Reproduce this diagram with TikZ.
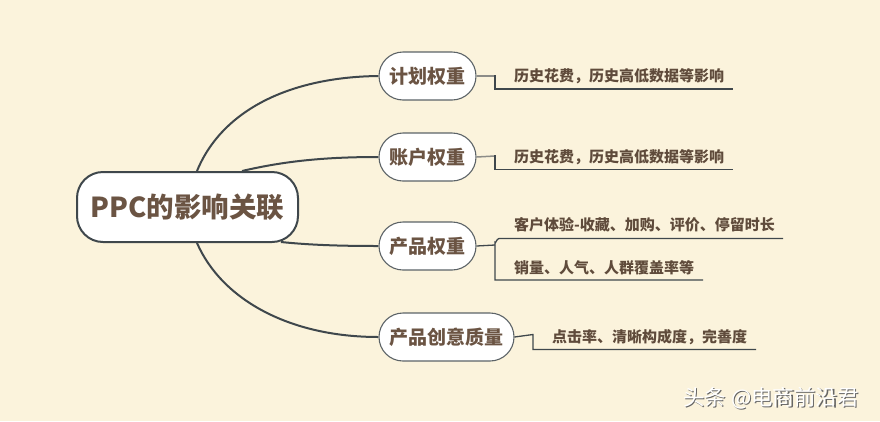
\documentclass[tikz,border=0pt]{standalone}
\usepackage{fontspec}
\newfontfamily\cjk{Noto Sans CJK SC}
\usetikzlibrary{calc}
\pgfdeclarelayer{background}
\pgfsetlayers{background,main}
\definecolor{bg}{HTML}{FBF3DC}
\definecolor{txt}{HTML}{6B5443}
\definecolor{leaftxt}{HTML}{5F4B3B}
\definecolor{edge}{HTML}{3F474C}
\definecolor{stubgray}{HTML}{8C8C88}
\begin{document}
\begin{tikzpicture}[x=1pt,y=-1pt,
  central/.style={draw=edge,line width=2pt,fill=white,rounded corners=26pt,minimum width=221pt,minimum height=70pt,inner sep=0pt,font=\cjk\bfseries\fontsize{27.5}{27.5}\selectfont,text=txt},
  branch/.style={draw=edge!85,line width=1.1pt,fill=white,rounded corners=24pt,minimum height=48pt,inner sep=0pt,font=\cjk\bfseries\fontsize{19}{19}\selectfont,text=txt},
  leaf/.style={anchor=west,inner sep=0pt,font=\cjk\bfseries\fontsize{15}{15}\selectfont,text=leaftxt},
  trunk/.style={draw=edge,line width=2pt},
  bracket/.style={draw=edge,line width=1.3pt},
  stub/.style={draw=stubgray,line width=1.5pt},
]
\begin{pgfonlayer}{background}
\fill[bg] (0,0) rectangle (880,421);
\end{pgfonlayer}
\useasboundingbox (0,0) rectangle (880,421);

\node[central] (c) at (187.5,207) {PPC的影响关联};
\node[branch,minimum width=97pt] (b1) at (427.5,76) {计划权重};
\node[branch,minimum width=97pt] (b2) at (427.5,157) {账户权重};
\node[branch,minimum width=97pt] (b3) at (427.5,246) {产品权重};
\node[branch,minimum width=135pt] (b4) at (446.5,337) {产品创意质量};

\begin{pgfonlayer}{background}
\draw[trunk] ($(c.north west)+(121,0)$) .. controls (222,110) and (290,77) .. (b1.west);
\draw[trunk] ($(c.north west)+(166,0)$) .. controls (285,161) and (325,157) .. (b2.west);
\draw[trunk] ($(c.south east)+(-18,-1)$) .. controls (310,245) and (340,246) .. (b3.west);
\draw[trunk] ($(c.south west)+(121,0)$) .. controls (222,300) and (290,337) .. (b4.west);
\end{pgfonlayer}

% leaves
\node[leaf] (l1) at (514,76) {历史花费，历史高低数据等影响};
\node[leaf] (l2) at (514,157) {历史花费，历史高低数据等影响};
\node[leaf] (l3a) at (514,225) {客户体验-收藏、加购、评价、停留时长};
\node[leaf] (l3b) at (514,268) {销量、人气、人群覆盖率等};
\node[leaf] (l4) at (552,337) {点击率、清晰构成度，完善度};

\coordinate (e1) at (733,89);
\coordinate (e2) at (733,169.5);
\coordinate (e3a) at (783,238.5);
\coordinate (e3b) at (703,280);
\coordinate (e4) at (756,349.5);

\draw[stub] (b1.east) -- (495,76);
\draw[bracket] (495,75) -- (495,89) -- (e1);
\draw[stub] (b2.east) -- (495,156);
\draw[bracket] (495,155) -- (495,169.5) -- (e2);
\draw[bracket] (b3.east) -- (495,245);
\draw[bracket] (e3a) -- (499,238.5) to[out=180,in=-90] (495,242.5) -- (495,280) -- (e3b);
\draw[bracket] (b4.east) -- (533,334.5) -- (533,349.5) -- (e4);

% watermark
\node[anchor=west,inner sep=0pt,font=\cjk\fontsize{21.5}{21.5}\selectfont,text=black!60] at (684.2,399.2) {头条 @电商前沿君};
\node[anchor=west,inner sep=0pt,font=\cjk\fontsize{21.5}{21.5}\selectfont,text=white] (wm) at (683,398) {头条 @电商前沿君};
\end{tikzpicture}
\end{document}
